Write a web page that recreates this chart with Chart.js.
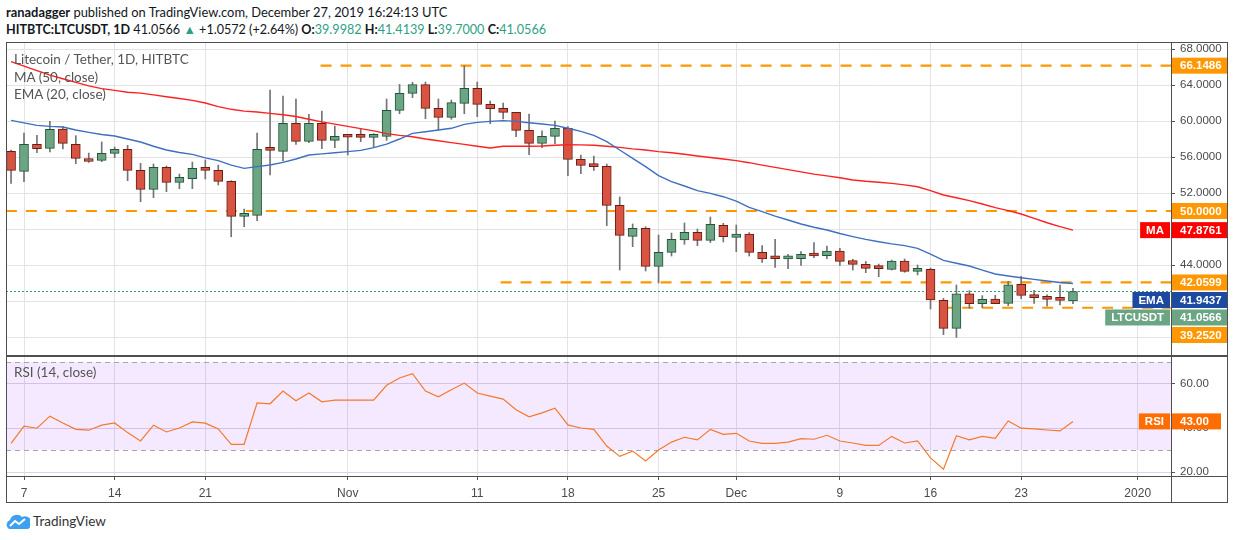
<!DOCTYPE html>
<html>
<head>
<meta charset="utf-8">
<script src="https://cdn.jsdelivr.net/npm/chart.js@4.4.1/dist/chart.umd.min.js"></script>
<style>
  body { margin: 0; width: 1234px; height: 540px; background: #fff; position: relative; overflow: hidden; font-family: 'Lato', sans-serif; color: #131722; }
  .abs { position: absolute; }
  .hdr { left: 6px; white-space: nowrap; }
  .hdr b { font-weight: 700; }
  .teal { color: #2e9f86; }
  .legend { left: 14px; font-size: 13.5px; color: #555; white-space: nowrap; }
  .line { background: #4f4f4f; }
</style>
</head>
<body>

<div class="abs hdr" style="top:4px;font-size:12.9px"><b>ranadagger</b> published on TradingView.com, December 27, 2019 16:24:13 UTC</div>
<div class="abs hdr" style="top:22px;font-size:12.6px"><b>HITBTC:LTCUSDT, 1D</b> 41.0566 <span class="teal">&#9650;</span> +1.0572 (+2.64%) <b>O:</b><span class="teal">39.9982</span> <b>H:</b><span class="teal">41.4139</span> <b>L:</b><span class="teal">39.7000</span> <b>C:</b><span class="teal">41.0566</span></div>

<div class="abs" style="left:6px;top:42px;width:1222px;height:314px"><canvas id="priceChart"></canvas></div>
<div class="abs" style="left:6px;top:356px;width:1222px;height:147px"><canvas id="rsiChart"></canvas></div>

<div class="abs line" style="left:6px;top:42px;width:1222px;height:1px"></div>
<div class="abs line" style="left:6px;top:42px;width:1px;height:461px"></div>
<div class="abs line" style="left:1227px;top:42px;width:1px;height:461px"></div>
<div class="abs line" style="left:1171px;top:42px;width:1px;height:461px"></div>
<div class="abs line" style="left:6px;top:355px;width:1222px;height:2px"></div>
<div class="abs line" style="left:6px;top:476px;width:1222px;height:1px"></div>
<div class="abs line" style="left:6px;top:502px;width:1222px;height:1px"></div>

<div class="abs legend" style="top:51px">Litecoin / Tether, 1D, HITBTC</div>
<div class="abs legend" style="top:69px">MA (50, close)</div>
<div class="abs legend" style="top:86px">EMA (20, close)</div>
<div class="abs legend" style="top:364px">RSI (14, close)</div>

<div class="abs" style="left:6px;top:513px">
  <svg width="24" height="16" viewBox="0 0 24 16">
    <path d="M3 16 A5 5 0 0 1 4 7 A7 7 0 0 1 16 4 A6 6 0 0 1 22 16 Z" fill="#3fa0ef"/>
    <path d="M4 13 L9 8 L13 11 L19 6" stroke="#fff" stroke-width="2" fill="none"/>
  </svg>
</div>
<div class="abs" style="left:33px;top:513px;font-size:13.5px;color:#333">TradingView</div>

<script>
// candles, index 0 = 2019-10-06, one per day up to 2019-12-27
var opens = [56.63, 54.41, 57.41, 56.96, 59.11, 57.41, 55.60, 55.63, 56.41, 56.85,
  54.52, 52.41, 54.85, 53.19, 53.59, 54.85, 54.52, 53.30, 49.41, 49.52,
  56.96, 56.63, 59.74, 57.74, 59.74, 57.85, 58.30, 58.26, 58.18, 58.30,
  61.19, 63.07, 64.04, 61.41, 60.41, 61.96, 63.63, 61.85, 61.40, 60.96,
  58.96, 57.52, 58.30, 59.19, 55.74, 55.07, 54.96, 50.63, 47.19, 48.07,
  43.85, 45.41, 46.80, 47.63, 46.74, 48.41, 47.07, 47.44, 45.41, 44.74,
  44.68, 44.70, 45.30, 45.04, 45.56, 44.48, 44.07, 43.66, 43.52, 44.44,
  43.30, 43.52, 40.07, 36.96, 40.81, 39.70, 40.22, 39.74, 41.85, 40.63,
  40.44, 40.22, 39.9982];
var highs = [56.78, 58.67, 58.41, 59.96, 59.37, 58.37, 56.44, 57.67, 57.11, 57.30,
  55.30, 55.22, 55.00, 54.11, 55.44, 55.67, 55.11, 53.37, 50.22, 58.67,
  63.44, 62.78, 62.44, 60.74, 61.11, 59.44, 58.40, 59.10, 58.60, 62.44,
  64.07, 64.30, 64.33, 62.44, 62.33, 66.15, 64.33, 62.22, 62.00, 60.96,
  60.78, 58.90, 60.00, 59.37, 56.22, 56.10, 55.22, 51.56, 48.56, 48.26,
  47.33, 47.55, 48.67, 48.00, 49.33, 48.63, 48.44, 47.60, 46.15, 46.85,
  45.20, 45.48, 46.48, 46.11, 45.85, 44.63, 44.40, 44.11, 44.55, 44.67,
  44.00, 43.67, 40.30, 41.78, 41.15, 40.60, 40.63, 42.19, 42.74, 41.19,
  40.70, 41.78, 41.4139];
var lows = [53.07, 53.26, 56.48, 56.56, 56.89, 55.26, 55.40, 55.48, 55.93, 53.37,
  51.04, 51.48, 52.15, 52.48, 52.48, 53.56, 52.89, 47.14, 48.26, 48.92,
  54.00, 55.56, 57.41, 57.59, 56.93, 57.04, 56.22, 57.70, 57.15, 57.85,
  60.81, 62.60, 60.26, 59.00, 60.19, 60.81, 60.48, 59.70, 60.22, 58.26,
  56.26, 57.04, 57.48, 53.93, 54.15, 54.50, 48.37, 43.44, 46.04, 43.33,
  42.00, 45.00, 46.30, 46.15, 46.50, 46.56, 45.48, 45.00, 44.30, 43.74,
  43.60, 43.96, 44.81, 44.70, 43.96, 43.44, 43.15, 42.70, 43.44, 43.19,
  42.90, 39.11, 36.26, 35.96, 39.19, 39.26, 39.70, 39.48, 40.26, 39.74,
  39.44, 39.56, 39.70];
var closes = [54.52, 57.41, 56.93, 59.07, 57.52, 55.85, 55.50, 56.41, 56.85, 54.52,
  52.41, 54.85, 53.19, 53.74, 54.74, 54.52, 53.30, 49.41, 49.55, 56.85,
  56.74, 59.74, 57.74, 59.74, 57.85, 58.30, 58.20, 58.18, 58.30, 61.19,
  63.07, 64.04, 61.41, 60.41, 62.04, 63.63, 61.85, 61.37, 60.96, 58.96,
  57.52, 58.30, 59.19, 55.74, 55.07, 54.93, 50.63, 47.30, 48.07, 43.85,
  45.41, 46.85, 47.63, 46.74, 48.52, 47.15, 47.44, 45.41, 44.67, 44.70,
  44.72, 45.19, 45.00, 45.56, 44.41, 44.07, 43.63, 43.60, 44.44, 43.30,
  43.50, 40.11, 36.96, 40.81, 39.70, 40.19, 39.70, 41.81, 40.63, 40.37,
  40.19, 40.07, 41.0566];

var ma50 = [66.6, 66.1, 65.6, 65.1, 64.7, 64.3, 63.9, 63.6, 63.4, 63.2,
  63.1, 62.9, 62.7, 62.5, 62.3, 62.0, 61.6, 61.3, 61.1, 61.0,
  60.85, 60.7, 60.5, 60.2, 59.9, 59.65, 59.4, 59.15, 58.9, 58.6,
  58.4, 58.25, 58.0, 57.8, 57.6, 57.4, 57.2, 57.0, 57.2, 57.2,
  57.2, 57.22, 57.3, 57.37, 57.35, 57.3, 57.2, 57.07, 56.9, 56.78,
  56.6, 56.48, 56.3, 56.11, 55.95, 55.78, 55.6, 55.37, 55.1, 54.85,
  54.6, 54.35, 54.1, 53.9, 53.7, 53.45, 53.3, 53.2, 53.07, 52.9,
  52.7, 52.26, 51.78, 51.48, 51.15, 50.78, 50.37, 50.04, 49.67, 49.19,
  48.7, 48.26, 47.8761];
var ema20 = [60.07, 59.8, 59.52, 59.4, 59.33, 59.0, 58.74, 58.5, 58.33, 58.0,
  57.67, 57.2, 56.78, 56.5, 56.3, 55.9, 55.6, 55.1, 54.74, 54.93,
  55.11, 55.4, 55.78, 56.22, 56.35, 56.48, 56.6, 56.74, 57.04, 57.44,
  58.0, 58.63, 58.8, 59.0, 59.19, 59.63, 59.85, 59.96, 60.04, 59.96,
  59.81, 59.67, 59.52, 59.19, 58.85, 58.41, 57.7, 56.78, 55.85, 54.93,
  53.93, 53.26, 52.78, 52.26, 51.96, 51.59, 51.11, 50.41, 49.93, 49.44,
  49.0, 48.56, 48.2, 47.89, 47.5, 47.15, 46.85, 46.59, 46.35, 46.15,
  45.85, 45.22, 44.52, 44.19, 43.89, 43.44, 43.0, 42.78, 42.59, 42.41,
  42.22, 42.05, 41.9437];
var rsi14 = [33.0, 40.8, 39.9, 45.4, 42.3, 39.4, 39.0, 41.3, 42.3, 37.9,
  34.1, 41.3, 38.2, 40.0, 42.8, 42.2, 39.6, 32.6, 32.6, 51.4,
  51.0, 56.8, 52.4, 55.9, 51.9, 52.7, 52.7, 52.7, 52.7, 59.4,
  62.7, 64.7, 56.8, 54.2, 57.4, 60.4, 55.9, 54.5, 53.1, 48.3,
  45.1, 46.9, 49.0, 41.4, 40.0, 39.4, 31.8, 27.1, 29.5, 25.0,
  30.0, 33.6, 35.8, 34.6, 39.4, 37.1, 37.6, 34.1, 33.0, 33.0,
  33.6, 35.2, 34.9, 36.7, 34.1, 33.2, 32.1, 32.1, 36.2, 33.2,
  34.1, 26.4, 21.3, 36.5, 34.6, 36.2, 35.3, 43.2, 39.9, 39.6,
  39.1, 38.7, 43.0];

// horizontal levels drawn on the chart and the day index where each starts
var levels = [66.1486, 50.0000, 42.0599, 39.2520];
var levelStarts = [23.9, -0.4, 37.8, 71.9];

var tickDays = [1, 8, 15, 26, 36, 43, 50, 56, 64, 71, 78, 87];
var tickLabels = ['7', '14', '21', 'Nov', '11', '18', '25', 'Dec', '9', '16', '23', '2020'];

var X_MIN = -0.39, X_MAX = 89.57;
var UP = '#6ba583', UP_EDGE = '#225437', DOWN = '#d75442', DOWN_EDGE = '#6b1c14', WICK = '#737375';
var LEVEL = '#ff9800', MA_COL = '#ff2020', EMA_COL = '#3f6fc0', RSI_COL = '#f5792a';
var AXIS_FONT = { family: 'Liberation Sans', size: 11.5 };

var last = closes.length - 1;
var isUp = closes.map(function(c, i) { return c >= opens[i]; });

function xy(arr) {
  return arr.map(function(v, i) { return { x: i, y: v }; });
}

var levelSets = levels.map(function(v, k) {
  return {
    type: 'line', order: 8,
    data: [{ x: levelStarts[k], y: v }, { x: X_MAX, y: v }],
    borderColor: LEVEL, borderWidth: 2.2, borderDash: [11, 9],
    pointRadius: 0
  };
});

var priceSets = levelSets.concat([
  {
    type: 'line', order: 7,
    data: [{ x: X_MIN, y: closes[last] }, { x: X_MAX, y: closes[last] }],
    borderColor: '#3a9a6e', borderWidth: 1, borderDash: [2, 2], pointRadius: 0
  },
  {
    type: 'bar', order: 6, grouped: false,
    data: lows.map(function(l, i) { return { x: i, y: [l, highs[i]] }; }),
    backgroundColor: WICK, borderWidth: 0, barThickness: 1
  },
  {
    type: 'bar', order: 5, grouped: false,
    data: opens.map(function(o, i) { return { x: i, y: [o, closes[i]] }; }),
    backgroundColor: isUp.map(function(u) { return u ? UP : DOWN; }),
    borderColor: isUp.map(function(u) { return u ? UP_EDGE : DOWN_EDGE; }),
    borderWidth: 1, borderSkipped: false, barThickness: 9, minBarLength: 3
  },
  {
    type: 'line', order: 2, data: xy(ma50),
    borderColor: MA_COL, borderWidth: 1.4, pointRadius: 0, tension: 0
  },
  {
    type: 'line', order: 1, data: xy(ema20),
    borderColor: EMA_COL, borderWidth: 1.4, pointRadius: 0, tension: 0
  }
]);

// labels on the price axis, pushed down when they would overlap
var priceTags = [
  { value: levels[0], bg: LEVEL },
  { value: levels[1], bg: LEVEL },
  { value: ma50[last], bg: '#ff0000', tag: 'MA' },
  { value: levels[2], bg: LEVEL },
  { value: ema20[last], bg: '#1c4aa0', tag: 'EMA' },
  { value: closes[last], bg: UP, tag: 'LTCUSDT' },
  { value: levels[3], bg: LEVEL }
];

function drawTags(chart, tags, digits, boxW) {
  var ctx = chart.ctx, sc = chart.scales.y;
  var ax = sc.left, prev = -100;
  ctx.save();
  ctx.font = 'bold 11.5px "Liberation Sans"';
  ctx.textBaseline = 'middle';
  tags.slice().sort(function(a, b) { return b.value - a.value; }).forEach(function(t) {
    var y = Math.max(sc.getPixelForValue(t.value), prev + 17.5);
    prev = y;
    ctx.fillStyle = t.bg;
    ctx.fillRect(ax + 1, y - 8, boxW, 16);
    ctx.fillStyle = '#fff';
    ctx.fillText(t.value.toFixed(digits), ax + 9, y + 0.5);
    if (t.tag) {
      var w = ctx.measureText(t.tag).width + 12;
      ctx.fillStyle = t.bg;
      ctx.fillRect(ax - w - 1, y - 8, w, 16);
      ctx.fillStyle = '#fff';
      ctx.fillText(t.tag, ax - w + 5, y + 0.5);
    }
  });
  ctx.restore();
}

function noPad(s) {
  s.paddingTop = 0; s.paddingBottom = 0; s.paddingLeft = 0; s.paddingRight = 0;
}

function xScale(showLabels) {
  return {
    type: 'linear', min: X_MIN, max: X_MAX, offset: false,
    afterBuildTicks: function(s) { s.ticks = tickDays.map(function(d) { return { value: d }; }); },
    afterFit: function(s) { s.height = showLabels ? 27 : 0; noPad(s); },
    grid: { color: '#e3e3e3', offset: false, tickLength: showLabels ? 4 : 0, tickColor: '#555', drawTicks: showLabels },
    border: { display: false },
    ticks: {
      display: showLabels, autoSkip: false, maxRotation: 0, padding: 6,
      color: '#4a4a4a', font: { family: 'Liberation Sans', size: 12 },
      callback: function(v, i) { return tickLabels[i]; }
    }
  };
}

new Chart(document.getElementById('priceChart'), {
  type: 'bar',
  data: { datasets: priceSets },
  options: {
    responsive: true, maintainAspectRatio: false, animation: false, events: [],
    layout: { padding: 0 },
    plugins: { legend: { display: false }, tooltip: { enabled: false } },
    scales: {
      x: xScale(false),
      y: {
        position: 'right', min: 33.89, max: 68.78,
        afterBuildTicks: function(s) {
          var t = [];
          for (var v = 36; v <= 68; v += 4) t.push({ value: v });
          s.ticks = t;
        },
        afterFit: function(s) { s.width = 57; noPad(s); },
        grid: { color: '#e3e3e3', tickLength: 4, tickColor: '#555' },
        border: { display: false },
        ticks: { padding: 5, color: '#4a4a4a', font: AXIS_FONT, callback: function(v) { return v.toFixed(4); } }
      }
    }
  },
  plugins: [{
    id: 'priceTags',
    afterDraw: function(chart) { drawTags(chart, priceTags, 4, 56); }
  }]
});

new Chart(document.getElementById('rsiChart'), {
  type: 'line',
  data: {
    datasets: [{
      data: xy(rsi14), borderColor: RSI_COL, borderWidth: 1.2, pointRadius: 0, tension: 0
    }]
  },
  options: {
    responsive: true, maintainAspectRatio: false, animation: false, events: [],
    layout: { padding: 0 },
    plugins: { legend: { display: false }, tooltip: { enabled: false } },
    scales: {
      x: xScale(true),
      y: {
        position: 'right', min: 18.2, max: 72.7,
        afterBuildTicks: function(s) { s.ticks = [{ value: 20 }, { value: 40 }, { value: 60 }]; },
        afterFit: function(s) { s.width = 57; noPad(s); },
        grid: { color: '#dcd3e6', tickLength: 4, tickColor: '#555' },
        border: { display: false },
        ticks: { padding: 5, color: '#4a4a4a', font: AXIS_FONT, callback: function(v) { return v.toFixed(2); } }
      }
    }
  },
  plugins: [{
    id: 'rsiBand',
    beforeDatasetsDraw: function(chart) {
      var ctx = chart.ctx, a = chart.chartArea, y = chart.scales.y;
      var top = y.getPixelForValue(70), bot = y.getPixelForValue(30);
      ctx.save();
      ctx.fillStyle = 'rgba(156, 39, 255, 0.1)';
      ctx.fillRect(a.left, top, a.right - a.left, bot - top);
      ctx.strokeStyle = '#a8a4b0';
      ctx.lineWidth = 1;
      ctx.setLineDash([5, 4]);
      [top, bot].forEach(function(p) {
        ctx.beginPath();
        ctx.moveTo(a.left, Math.round(p) + 0.5);
        ctx.lineTo(a.right, Math.round(p) + 0.5);
        ctx.stroke();
      });
      ctx.restore();
    },
    afterDraw: function(chart) {
      drawTags(chart, [{ value: rsi14[last], bg: '#ff6d00', tag: 'RSI' }], 2, 49);
    }
  }]
});
</script>
</body>
</html>
